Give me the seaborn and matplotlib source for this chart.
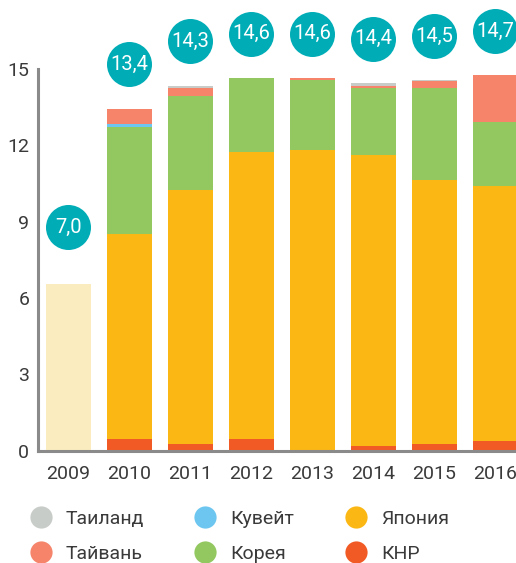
import matplotlib
matplotlib.use("Agg")
import matplotlib.pyplot as plt
from matplotlib.lines import Line2D
import numpy as np
import seaborn as sns

years = ["2009", "2010", "2011", "2012", "2013", "2014", "2015", "2016"]
totals = [7.0, 13.4, 14.3, 14.6, 14.6, 14.4, 14.5, 14.7]

# 2009 has no breakdown by country
no_breakdown = [6.54, 0, 0, 0, 0, 0, 0, 0]
china = [0, 0.46, 0.27, 0.46, 0.03, 0.18, 0.27, 0.38]
japan = [0, 8.04, 9.97, 11.27, 11.77, 11.42, 10.36, 10.02]
korea = [0, 4.20, 3.69, 2.90, 2.75, 2.65, 3.61, 2.52]
kuwait = [0, 0.14, 0, 0, 0, 0, 0, 0]
taiwan = [0, 0.58, 0.31, 0, 0.08, 0.07, 0.27, 1.83]
thailand = [0, 0, 0.08, 0, 0, 0.12, 0.04, 0]

sns.set_style("white")
plt.rcParams["font.family"] = ["Roboto", "DejaVu Sans"]

colors = {
    "Таиланд": "#c8ccc8",
    "Тайвань": "#f5846a",
    "Кувейт": "#6cc6f0",
    "Корея": "#92c85f",
    "Япония": "#fbb714",
    "КНР": "#f15a24",
}
pale = "#fbecc0"
teal = "#00adb7"
axis_gray = "#8a8a8a"
text_col = "#3a3a3a"

# bottom to top
layers = [("КНР", china), ("Япония", japan), ("Корея", korea),
          ("Кувейт", kuwait), ("Тайвань", taiwan), ("Таиланд", thailand)]
cum = np.cumsum([np.array(v) for _, v in layers], axis=0)

fig = plt.figure(figsize=(5.16, 5.63), dpi=100)
ax = fig.add_axes([0.073, 0.1995, 0.927, 0.796])

sns.barplot(x=years, y=no_breakdown, color=pale, saturation=1, width=0.74,
            errorbar=None, linewidth=0, ax=ax)
# draw cumulative heights from top layer down so lower layers overdraw
for i in range(len(layers) - 1, -1, -1):
    name = layers[i][0]
    sns.barplot(x=years, y=cum[i], color=colors[name], saturation=1,
                width=0.74, errorbar=None, linewidth=0, ax=ax)

ax.set_xlim(-0.505, 7.34)
ax.set_ylim(0, 17.6)

xpos = np.arange(len(years))
ax.scatter(xpos, np.array(totals) + 1.78, s=1050, color=teal, linewidths=0,
           zorder=5, clip_on=False)
for x, t in zip(xpos, totals):
    ax.text(x, t + 1.78, f"{t:.1f}".replace(".", ","), color="white",
            fontsize=14.5, ha="center", va="center", zorder=6)

for s in ["top", "right"]:
    ax.spines[s].set_visible(False)
for s in ["left", "bottom"]:
    ax.spines[s].set_color(axis_gray)
    ax.spines[s].set_linewidth(2.2)
ax.spines["left"].set_bounds(0, 15)

ax.set_yticks([0, 3, 6, 9, 12, 15])
ax.set_yticklabels(["0", "3", "6", "9", "12", "15"])
ax.tick_params(axis="y", direction="in", length=8, width=2.2, color=axis_gray,
               labelsize=14, labelcolor=text_col, pad=6)
ax.set_xticks(xpos)
ax.set_xticklabels(years)
ax.tick_params(axis="x", which="major", length=0, labelsize=14,
               labelcolor=text_col, pad=10)
ax.set_xticks(xpos[:-1] + 0.5, minor=True)
ax.tick_params(axis="x", which="minor", direction="in", length=6, width=2.2,
               color=axis_gray)
ax.set_xlabel("")
ax.set_ylabel("")

legend_order = ["Таиланд", "Тайвань", "Кувейт", "Корея", "Япония", "КНР"]
handles = [Line2D([], [], marker="o", linestyle="none", markersize=16,
                  markerfacecolor=colors[n], markeredgewidth=0, label=n)
           for n in legend_order]
leg = fig.legend(handles=handles, ncol=3, loc="upper left",
                 bbox_to_anchor=(0.056, 0.094), frameon=False, fontsize=14,
                 handletextpad=0.7, columnspacing=2.55, labelspacing=0.86,
                 handlelength=1.2, borderaxespad=0, borderpad=0)
for t in leg.get_texts():
    t.set_color(text_col)

fig.savefig("out.png", dpi=100)
